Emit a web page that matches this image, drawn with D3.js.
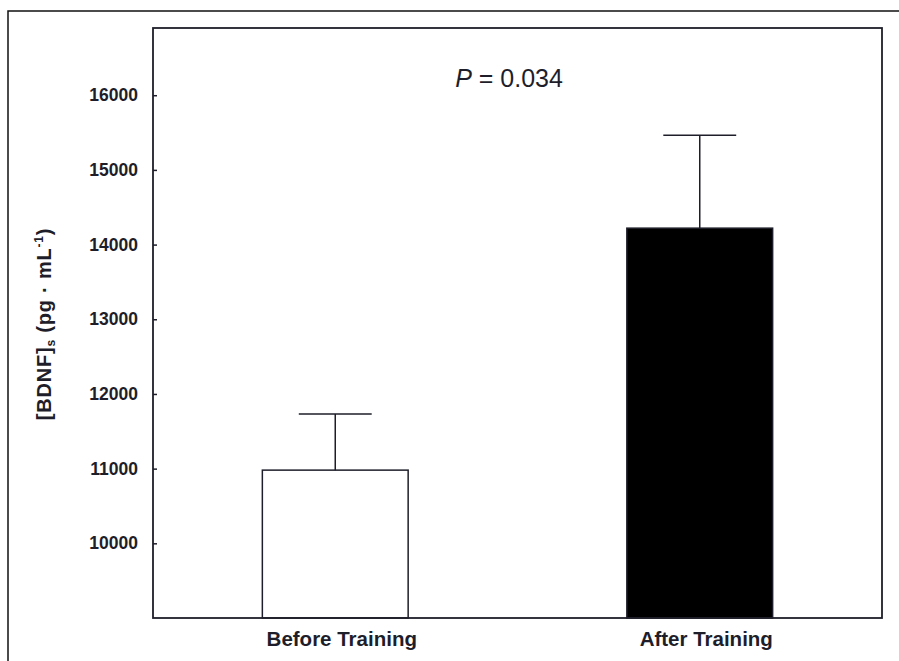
<!DOCTYPE html>
<html>
<head>
<meta charset="utf-8">
<script src="https://cdn.jsdelivr.net/npm/d3@7/dist/d3.min.js"></script>
<style>
  html, body { margin: 0; padding: 0; background: #fff; }
  svg { display: block; }
  text { font-family: "Liberation Sans", Arial, sans-serif; fill: #1e1e2a; }
</style>
</head>
<body>
<svg id="chart" width="899" height="661"></svg>
<script>
const categories = ["Before Training", "After Training"];
const means = [10980, 14220];
const errors = [750, 1245];
const fills = ["#ffffff", "#000000"];
const tickValues = [10000, 11000, 12000, 13000, 14000, 15000, 16000];
const annotation = "0.034";

const svg = d3.select("#chart");
const W = 899, H = 661;
const pL = 153, pR = 882, pT = 28, pB = 618;
const ink = "#1e1e2a";

// outer frame
svg.append("rect").attr("x", 8).attr("y", 11).attr("width", W).attr("height", H)
  .attr("fill", "none").attr("stroke", "#111").attr("stroke-width", 1.5);

const y = d3.scaleLinear().domain([9000, 16900]).range([pB, pT]);
const x = d3.scalePoint().domain(categories).range([pL, pR]).padding(0.5);
const bw = x.step() * 0.4;

const data = categories.map((c, i) => ({c, m: means[i], e: errors[i], f: fills[i]}));

// bars
svg.selectAll("rect.bar").data(data).enter().append("rect")
  .attr("class", "bar")
  .attr("x", d => x(d.c) - bw / 2)
  .attr("width", bw)
  .attr("y", d => y(d.m))
  .attr("height", d => y(9000) - y(d.m))
  .attr("fill", d => d.f)
  .attr("stroke", ink).attr("stroke-width", 1.5);

// error bars
const eb = svg.selectAll("g.err").data(data).enter().append("g").attr("class", "err");
eb.append("line")
  .attr("x1", d => x(d.c)).attr("x2", d => x(d.c))
  .attr("y1", d => y(d.m)).attr("y2", d => y(d.m + d.e))
  .attr("stroke", ink).attr("stroke-width", 1.5);
eb.append("line")
  .attr("x1", d => x(d.c) - bw / 4).attr("x2", d => x(d.c) + bw / 4)
  .attr("y1", d => y(d.m + d.e)).attr("y2", d => y(d.m + d.e))
  .attr("stroke", ink).attr("stroke-width", 1.5);

// plot box
svg.append("rect").attr("x", pL).attr("y", pT)
  .attr("width", pR - pL).attr("height", pB - pT)
  .attr("fill", "none").attr("stroke", ink).attr("stroke-width", 1.8);

// y axis
const yAxis = d3.axisLeft(y).tickValues(tickValues).tickSize(-4).tickPadding(15)
  .tickFormat(d3.format("d"));
const gy = svg.append("g").attr("transform", `translate(${pL},0)`).call(yAxis);
gy.select(".domain").remove();
gy.selectAll(".tick line").attr("stroke", ink).attr("stroke-width", 1.5);
gy.selectAll(".tick text").attr("font-size", 17.5).attr("font-weight", "bold")
  .attr("font-family", "Liberation Sans, Arial, sans-serif").attr("fill", ink);

// x labels
const xAxis = d3.axisBottom(x).tickSize(0).tickPadding(13);
const gx = svg.append("g").attr("transform", `translate(0,${pB})`).call(xAxis);
gx.select(".domain").remove();
gx.selectAll(".tick text").attr("font-size", 20.5).attr("font-weight", "bold")
  .attr("font-family", "Liberation Sans, Arial, sans-serif").attr("fill", ink)
  .attr("dx", 6);

// y title
const yt = svg.append("text")
  .attr("transform", `translate(51,324) rotate(-90)`)
  .attr("text-anchor", "middle")
  .attr("font-size", 20).attr("font-weight", "bold")
  .attr("letter-spacing", 0.8);
yt.append("tspan").text("[BDNF]");
yt.append("tspan").text("s").attr("font-size", 12).attr("dy", 4);
yt.append("tspan").text(" (pg \u00b7 mL").attr("dy", -4);
yt.append("tspan").text("-1").attr("font-size", 12).attr("dy", -8);
yt.append("tspan").text(")").attr("dy", 8);

// P annotation
const pt = svg.append("text").attr("x", 509).attr("y", 87)
  .attr("text-anchor", "middle").attr("font-size", 25);
pt.append("tspan").text("P").attr("font-style", "italic");
pt.append("tspan").text(" = " + annotation);
</script>
</body>
</html>
